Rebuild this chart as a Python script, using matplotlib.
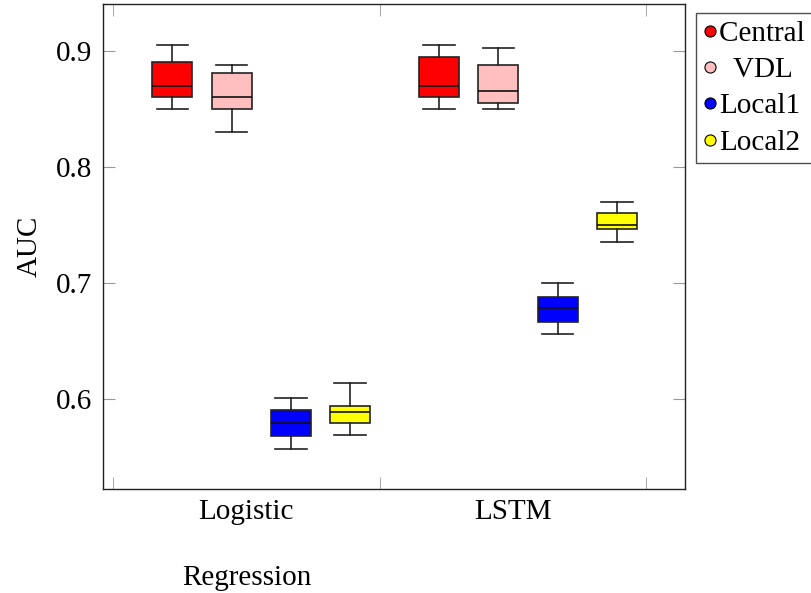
import matplotlib
matplotlib.use("Agg")
import matplotlib.pyplot as plt
from matplotlib.lines import Line2D

plt.rcParams['font.family'] = ['Liberation Serif', 'DejaVu Serif']
plt.rcParams['font.size'] = 21

# box statistics: (whislo, q1, median, q3, whishi)
models = ['Logistic\n\nRegression', 'LSTM']
series = ['Central', 'VDL', 'Local1', 'Local2']
colors = ['#ff0000', '#ffbfbf', '#0000ff', '#ffff00']

central = [(0.850, 0.860, 0.870, 0.890, 0.905), (0.850, 0.860, 0.870, 0.895, 0.905)]
vdl = [(0.830, 0.850, 0.860, 0.881, 0.888), (0.850, 0.855, 0.865, 0.888, 0.902)]
local1 = [(0.557, 0.568, 0.579, 0.590, 0.601), (0.656, 0.666, 0.678, 0.688, 0.700)]
local2 = [(0.569, 0.579, 0.589, 0.594, 0.614), (0.735, 0.746, 0.750, 0.760, 0.770)]

fig = plt.figure(figsize=(8.11, 5.93), dpi=100)
ax = fig.add_axes([103 / 811, 1 - 489 / 593, 582 / 811, 485 / 593])

all_data = [central, vdl, local1, local2]
for gi in range(len(models)):
    for si, data in enumerate(all_data):
        lo, q1, med, q3, hi = data[gi]
        pos = si + 1 + gi * 4.5
        stats = [dict(whislo=lo, q1=q1, med=med, q3=q3, whishi=hi, fliers=[])]
        ax.bxp(stats, positions=[pos], widths=0.675, capwidths=0.53,
               patch_artist=True, showfliers=False,
               boxprops=dict(facecolor=colors[si], edgecolor='#222222', linewidth=1.2),
               medianprops=dict(color='#111111', linewidth=1.2),
               whiskerprops=dict(color='#222222', linewidth=1.2),
               capprops=dict(color='#222222', linewidth=1.2))

ax.set_xlim(-0.17, 9.65)
ax.set_ylim(0.5222, 0.9403)
ax.set_yticks([0.6, 0.7, 0.8, 0.9])
ax.set_yticklabels(['0.6', '0.7', '0.8', '0.9'])
ax.set_xticks([2.25, 6.75])
ax.set_xticklabels(models, linespacing=1.35)
ax.set_xticks([0, 4.5, 9], minor=True)
ax.tick_params(axis='x', which='major', length=0, pad=7)
ax.tick_params(axis='x', which='minor', direction='in', length=8.4, color='#999999',
               top=True, bottom=True)
ax.tick_params(axis='y', direction='in', length=8.4, color='#999999',
               left=True, right=True, pad=8)
for sp in ax.spines.values():
    sp.set_color('#222222')
    sp.set_linewidth(1.0)

ax.set_ylabel('AUC', labelpad=9)

handles = [Line2D([], [], linestyle='none', marker='o', markersize=8,
                  markerfacecolor=c, markeredgecolor='black', markeredgewidth=0.8)
           for c in colors]
labels = ['Central  ', '  VDL', 'Local1', 'Local2']
leg = fig.legend(handles, labels, loc='upper left',
                 bbox_to_anchor=(696 / 811, 1 - 13 / 593), bbox_transform=fig.transFigure,
                 frameon=True, fancybox=False, edgecolor='#222222',
                 handlelength=0.45, handletextpad=0.1, borderpad=0.25,
                 labelspacing=0.34, borderaxespad=0)
leg.get_frame().set_linewidth(1.0)

fig.savefig('out.png', dpi=100)
